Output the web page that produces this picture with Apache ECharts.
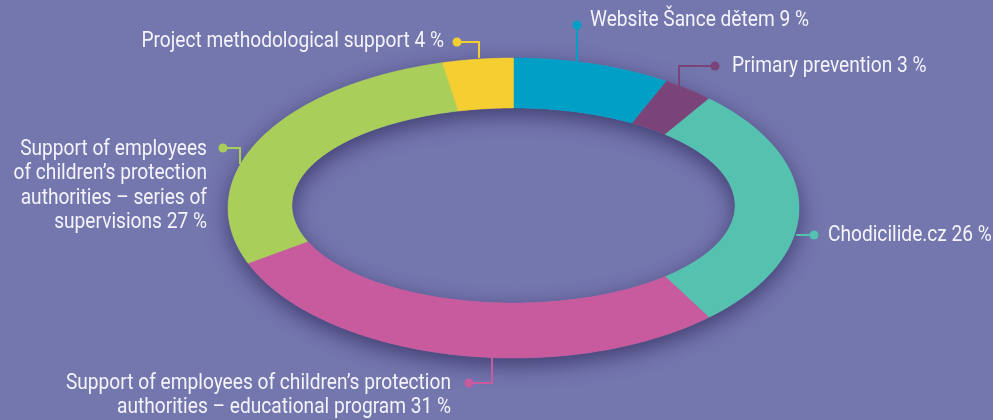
<!DOCTYPE html>
<html>
<head>
<meta charset="utf-8">
<title>Donut</title>
<script src="https://cdn.jsdelivr.net/npm/echarts@6/dist/echarts.min.js"></script>
<style>
html,body{margin:0;padding:0;background:#7476ae;}
#main{width:993px;height:420px;}
</style>
</head>
<body>
<div id="main"></div>
<script>
// categories, clockwise from 12 o'clock
var categories = [
  'Website Šance dětem',
  'Primary prevention',
  'Chodicilide.cz',
  'Support of employees of children’s protection\nauthorities – educational program',
  'Support of employees\nof children’s protection\nauthorities – series of\nsupervisions',
  'Project methodological support'
];
var values = [9, 3, 26, 31, 27, 4];

var colors = ['#00a0c6', '#7b4478', '#55c2b0', '#c85a9e', '#a9cf5a', '#f5cf32'];

// ring shape (tilted ring, so outer and inner ellipse differ)
var outer = {cx: 513.5, cy: 208, rx: 285.5, ry: 150};
var inner = {cx: 513.5, cy: 205.5, rx: 221.5, ry: 97.5};

// label placement: text anchor + leader line points (first point = dot)
var labelLayout = [
  {x: 590, y: 20,    align: 'left',  line: [[577, 25], [577, 71]]},
  {x: 732, y: 66,    align: 'left',  line: [[715, 66], [679, 66], [679, 87]]},
  {x: 828, y: 235,   align: 'left',  line: [[814, 235], [796, 235]]},
  {x: 451, y: 395.5, align: 'right', line: [[469, 383], [492, 383], [492, 355]]},
  {x: 207, y: 186,   align: 'right', line: [[223, 148], [240, 148], [240, 164]]},
  {x: 444, y: 41,    align: 'right', line: [[457, 42], [479, 42], [479, 58]]}
];

var total = values.reduce(function (a, b) { return a + b; }, 0);
var starts = [];
var acc = 0;
values.forEach(function (v) { starts.push(acc); acc += v; });

function pt(e, t) {
  return [e.cx + e.rx * Math.sin(t), e.cy - e.ry * Math.cos(t)];
}

function arc(e, t0, t1) {
  var n = Math.max(4, Math.ceil(Math.abs(t1 - t0) / 0.01));
  var pts = [];
  for (var i = 0; i <= n; i++) {
    pts.push(pt(e, t0 + (t1 - t0) * i / n));
  }
  return pts;
}

function ringPath() {
  var o = arc(outer, 0, Math.PI * 2);
  var r = arc(inner, Math.PI * 2, 0);
  var d = 'M' + o.map(function (p) { return p[0].toFixed(2) + ' ' + p[1].toFixed(2); }).join(' L') + ' Z ';
  d += 'M' + r.map(function (p) { return p[0].toFixed(2) + ' ' + p[1].toFixed(2); }).join(' L') + ' Z';
  return d;
}

// no condensed font installed -> squeeze Roboto horizontally
var FONT = '22px Roboto, sans-serif';
var SQUEEZE = 0.87;

function renderItem(params, api) {
  var i = params.dataIndex;
  var v = api.value(0);
  var t0 = starts[i] / total * Math.PI * 2;
  var t1 = (starts[i] + v) / total * Math.PI * 2;
  var pts = arc(outer, t0, t1).concat(arc(inner, t1, t0));
  var lay = labelLayout[i];
  var children = [];
  if (i === 0) {
    // shadow under whole ring
    children.push({
      type: 'path',
      shape: {pathData: ringPath()},
      style: {
        fill: '#8a8ab8',
        shadowBlur: 22,
        shadowOffsetY: 7,
        shadowColor: 'rgba(35,30,80,0.65)'
      }
    });
  }
  children.push({
    type: 'polygon',
    shape: {points: pts},
    style: {fill: colors[i], stroke: colors[i], lineWidth: 0.5}
  });
  children.push({
    type: 'polyline',
    shape: {points: lay.line},
    style: {stroke: colors[i], lineWidth: 2, fill: null}
  });
  children.push({
    type: 'circle',
    shape: {cx: lay.line[0][0], cy: lay.line[0][1], r: 4.5},
    style: {fill: colors[i]}
  });
  children.push({
    type: 'text',
    x: lay.x,
    y: lay.y,
    scaleX: SQUEEZE,
    scaleY: 1,
    style: {
      text: categories[i] + ' ' + v + ' %',
      x: 0,
      y: 0,
      fill: '#f4f4fa',
      font: FONT,
      lineHeight: 24.5,
      align: lay.align,
      verticalAlign: 'middle'
    }
  });
  return {type: 'group', children: children};
}

var chart = echarts.init(document.getElementById('main'));
chart.setOption({
  backgroundColor: '#7476ae',
  animation: false,
  series: [{
    type: 'custom',
    coordinateSystem: 'none',
    renderItem: renderItem,
    data: values.map(function (v, i) { return {name: categories[i], value: [v]}; })
  }]
});
</script>
</body>
</html>
